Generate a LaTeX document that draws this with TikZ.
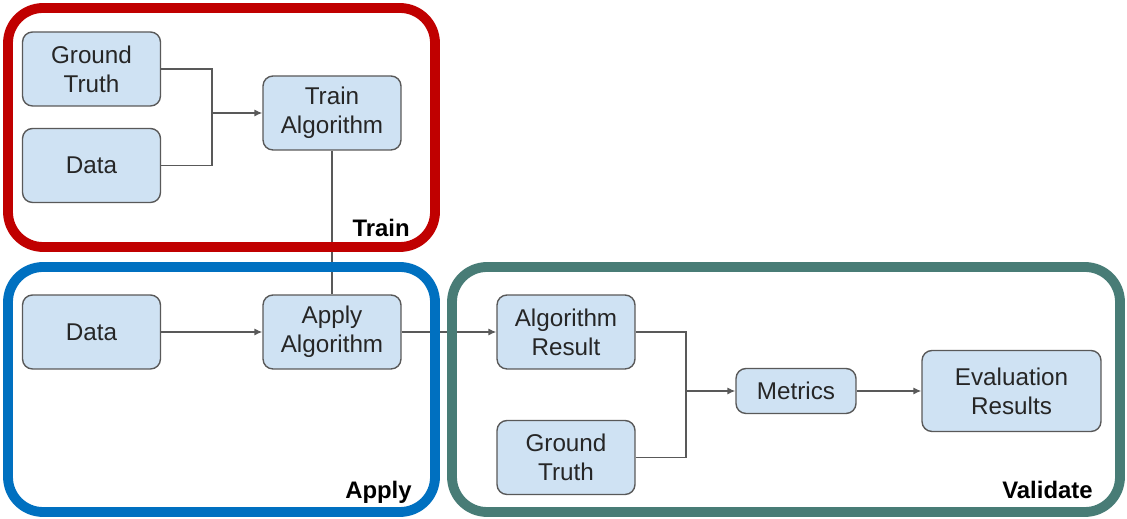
\documentclass[tikz,border=0pt]{standalone}
\usepackage{fontspec}
\setmainfont{Liberation Sans}
\usetikzlibrary{arrows.meta}

\definecolor{boxfill}{HTML}{CFE2F3}
\definecolor{boxline}{HTML}{595959}
\definecolor{trainred}{HTML}{C00000}
\definecolor{applyblue}{HTML}{0070C0}
\definecolor{validteal}{HTML}{487C76}

\begin{document}
\begin{tikzpicture}[x=0.02cm,y=-0.02cm,
		stepbox/.style={draw=boxline,fill=boxfill,line width=0.8pt,rounded corners=0.2cm,
			align=center,inner sep=0pt,minimum width=2.76cm,minimum height=1.48cm,
			font=\fontsize{13.8}{16.6}\selectfont,text=black!85},
		conn/.style={draw=boxline,line width=0.75pt},
		arr/.style={conn,-{Latex[length=4.5pt,width=4pt]}},
		frame/.style={line width=5.6pt,rounded corners=0.7cm},
		framelabel/.style={anchor=base east,inner sep=0pt,font=\fontsize{13.6}{16}\selectfont\bfseries}]
	\useasboundingbox (0,0) rectangle (1127,519);
	% train
	\node[stepbox] (gtTrain) at (91.5,69) {Ground\\Truth};
	\node[stepbox] (dataTrain) at (91.5,165.5) {Data};
	\node[stepbox] (trainAlg) at (332,113) {Train\\Algorithm};
	% apply
	\node[stepbox] (dataApply) at (91.5,332) {Data};
	\node[stepbox] (applyAlg) at (332,332) {Apply\\Algorithm};
	% validate
	\node[stepbox] (algResult) at (566,332) {Algorithm\\Result};
	\node[stepbox] (gtVal) at (566,457.5) {Ground\\Truth};
	\node[stepbox,minimum width=2.4cm,minimum height=0.9cm] (metrics) at (796,391) {Metrics};
	\node[stepbox,minimum width=3.58cm,minimum height=1.62cm] (evalRes) at (1011.5,391) {Evaluation\\Results};

	\coordinate (jTrain) at (212,113);
	\coordinate (jVal) at (686,391);
	\draw[conn] (gtTrain.east) -| (jTrain);
	\draw[conn] (dataTrain.east) -| (jTrain);
	\draw[arr] (jTrain) -- (trainAlg.west);
	\draw[conn] (trainAlg.south) -- (applyAlg.north);
	\draw[arr] (dataApply.east) -- (applyAlg.west);
	\draw[arr] (applyAlg.east) -- (algResult.west);
	\draw[conn] (algResult.east) -| (jVal);
	\draw[conn] (gtVal.east) -| (jVal);
	\draw[arr] (jVal) -- (metrics.west);
	\draw[arr] (metrics.east) -- (evalRes.west);

	% frames
	\draw[frame,trainred] (8,8) rectangle (435,247);
	\draw[frame,applyblue] (8,267) rectangle (435,512);
	\draw[frame,validteal] (452,267) rectangle (1120,512);
	\node[framelabel] (trainLbl) at (410,236.5) {Train};
	\node[framelabel] (applyLbl) at (412,499) {Apply};
	\node[framelabel] (validLbl) at (1093,499) {Validate};
\end{tikzpicture}
\end{document}
